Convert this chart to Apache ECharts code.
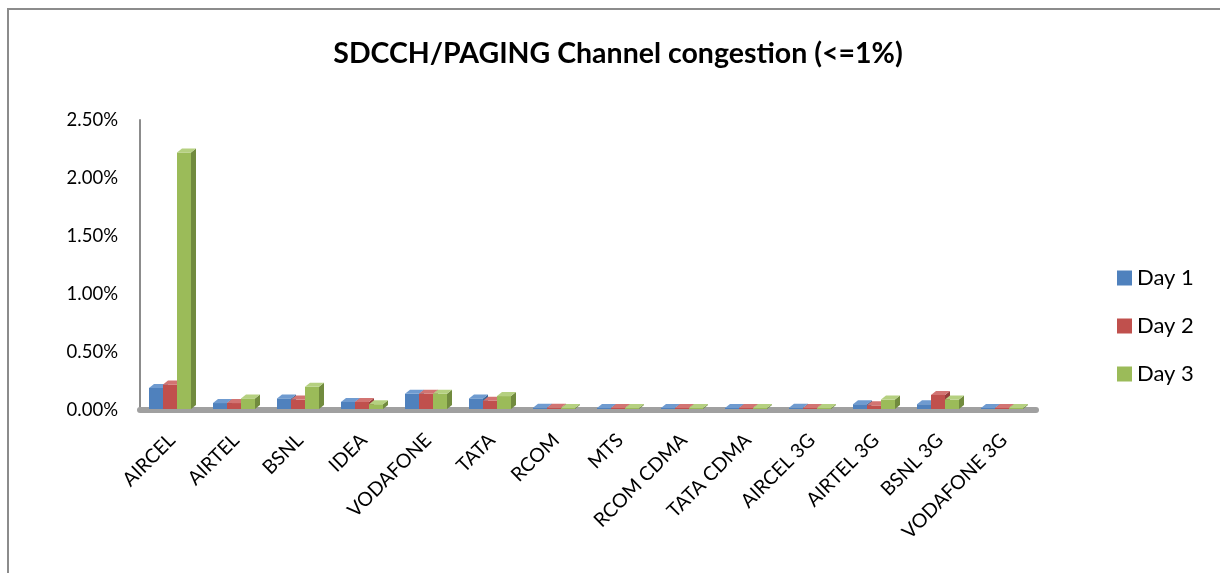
<!DOCTYPE html>
<html><head><meta charset="utf-8">
<script src="https://cdn.jsdelivr.net/npm/echarts@6/dist/echarts.min.js"></script>
<style>html,body{margin:0;padding:0;background:#fff}#c{width:1220px;height:573px}</style>
</head><body><div id="c"></div>
<script>
const categories = ['AIRCEL','AIRTEL','BSNL','IDEA','VODAFONE','TATA','RCOM','MTS','RCOM CDMA','TATA CDMA','AIRCEL 3G','AIRTEL 3G','BSNL 3G','VODAFONE 3G'];
const day1 = [0.19, 0.06, 0.10, 0.07, 0.14, 0.10, 0.02, 0.01, 0.01, 0.01, 0.02, 0.05, 0.05, 0.01];
const day2 = [0.22, 0.06, 0.09, 0.07, 0.14, 0.08, 0.02, 0.01, 0.01, 0.01, 0.01, 0.04, 0.13, 0.01];
const day3 = [2.22, 0.10, 0.20, 0.05, 0.14, 0.12, 0.01, 0.01, 0.01, 0.01, 0.01, 0.09, 0.09, 0.01];
const yTicks = [0, 0.5, 1.0, 1.5, 2.0, 2.5];
const seriesNames = ['Day 1','Day 2','Day 3'];
const colors = [['#4f81bd','#3a6596','#6f9bd0'],['#c0504d','#953c3a','#d27472'],['#9bbb59','#718b3e','#b5d080']];
const FONT = 'Lato';

function shade(idx){
  return function(params, api){
    const cat = api.value(0), v = api.value(1);
    const base = api.coord([cat, 0]);
    const top = api.coord([cat, v]);
    const bw = 14, dx = 5, dy = 4;
    const x0 = base[0] - 23 + idx*bw;
    const x1 = x0 + bw;
    const yb = base[1] - 1, yt = Math.min(top[1], yb - 1);
    const c = colors[idx];
    return {type:'group', children:[
      {type:'polygon', shape:{points:[[x1,yb],[x1+dx,yb-dy],[x1+dx,yt-dy],[x1,yt]]}, style:{fill:c[1]}},
      {type:'rect', shape:{x:x0, y:yt, width:bw, height:yb-yt}, style:{fill:c[0]}},
      {type:'polygon', shape:{points:[[x0,yt],[x0+dx,yt-dy],[x1+dx,yt-dy],[x1,yt]]}, style:{fill:c[2]}}
    ]};
  };
}
const allData = [day1, day2, day3];
const chart = echarts.init(document.getElementById('c'));
chart.setOption({
  backgroundColor:'#fff',
  animation:false,
  title:{text:'SDCCH/PAGING Channel congestion (<=1%)', left:613, textAlign:'center', top:34,
    textStyle:{fontFamily:FONT, fontWeight:'bold', fontSize:28.5, color:'#000'}},
  legend:{orient:'vertical', left:1112, top:262, itemGap:26, itemWidth:15, itemHeight:15, icon:'rect',
    textStyle:{fontFamily:FONT, fontSize:22, color:'#000'},
    data: seriesNames.map((n,i)=>({name:n, itemStyle:{color:colors[i][0]}}))},
  graphic:[{type:'rect', shape:{x:8, y:9, width:1300, height:700}, style:{fill:'none', stroke:'#8c8c8c', lineWidth:2}, z:-1}],
  grid:{left:140, right:184, top:120, bottom:163},
  xAxis:{type:'category', data:categories, boundaryGap:true,
    axisLine:{lineStyle:{color:'#a0a0a0', width:6}}, axisTick:{show:false},
    axisLabel:{rotate:45, margin:27, interval:0, fontFamily:FONT, fontSize:19.5, color:'#000'}},
  yAxis:{type:'value', min:0, max:2.5, interval:0.5,
    axisLine:{show:true, lineStyle:{color:'#8c8c8c', width:2}}, axisTick:{show:false}, splitLine:{show:false},
    axisLabel:{margin:22, fontFamily:FONT, fontSize:18.5, color:'#000', formatter:v=>v.toFixed(2)+'%'}},
  series: seriesNames.map((n,i)=>({name:n, type:'custom', renderItem:shade(i), itemStyle:{color:colors[i][0]},
    encode:{x:0,y:1}, data: allData[i].map((v,k)=>[k,v])}))
});
</script></body></html>
